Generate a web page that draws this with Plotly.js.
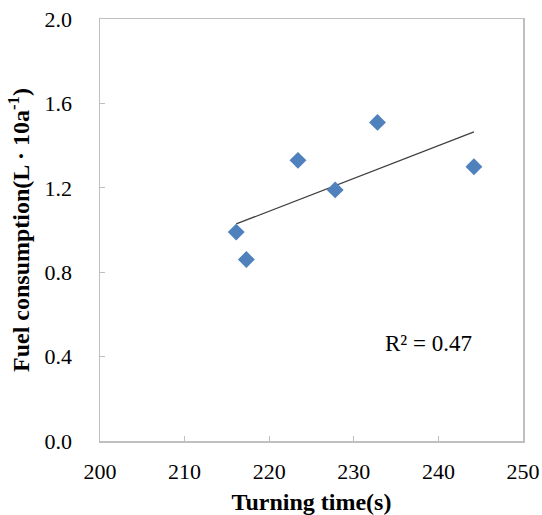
<!DOCTYPE html>
<html>
<head>
<meta charset="utf-8">
<script src="https://cdn.plot.ly/plotly-3.0.1.min.js"></script>
<style>html,body{margin:0;padding:0;background:#fff;}#chart{width:542px;height:515px;}</style>
</head>
<body>
<div id="chart"></div>
<script>
// Data
const turningTime = [216.1, 217.3, 223.4, 227.8, 232.8, 244.2];
const fuelConsumption = [0.99, 0.86, 1.33, 1.19, 1.51, 1.30];
const xTicks = [200, 210, 220, 230, 240, 250];
const yTicks = [0.0, 0.4, 0.8, 1.2, 1.6, 2.0];
const r2Label = 'R² = 0.47';

// Linear least-squares trendline (as in the spreadsheet chart)
const n = turningTime.length;
const mx = turningTime.reduce((a, b) => a + b, 0) / n;
const my = fuelConsumption.reduce((a, b) => a + b, 0) / n;
let sxy = 0, sxx = 0;
for (let i = 0; i < n; i++) {
  sxy += (turningTime[i] - mx) * (fuelConsumption[i] - my);
  sxx += (turningTime[i] - mx) ** 2;
}
const slope = sxy / sxx;
const intercept = my - slope * mx;
const xMin = Math.min(...turningTime), xMax = Math.max(...turningTime);
const trendX = [xMin, xMax];
const trendY = trendX.map(x => intercept + slope * x);

const font = '"Liberation Serif", "Times New Roman", Times, serif';
const axisCol = '#BFBFBF';

const traces = [
  {
    x: trendX, y: trendY, type: 'scatter', mode: 'lines',
    line: {color: '#404040', width: 1.3}, hoverinfo: 'skip', showlegend: false
  },
  {
    x: turningTime, y: fuelConsumption, type: 'scatter', mode: 'markers',
    marker: {symbol: 'diamond', size: 13, color: '#4F81BD', line: {width: 0}},
    showlegend: false
  }
];

const layout = {
  width: 542, height: 515,
  margin: {l: 100, r: 19, t: 19, b: 74},
  paper_bgcolor: '#fff', plot_bgcolor: '#fff',
  font: {family: font, color: '#000', size: 20},
  xaxis: {
    range: [200, 250], tickvals: xTicks, ticktext: xTicks.map(String),
    showgrid: false, zeroline: false, showline: true, mirror: true,
    linecolor: axisCol, linewidth: 1.5, ticks: 'inside', ticklen: 5, tickcolor: axisCol,
    ticklabelstandoff: 10,
    tickfont: {family: font, size: 22, color: '#000'},
    title: {text: '<b>Turning time(s)</b>', font: {family: font, size: 24, color: '#000'}, standoff: 12}
  },
  yaxis: {
    range: [0, 2.0], tickvals: yTicks, ticktext: yTicks.map(v => v.toFixed(1)),
    showgrid: false, zeroline: false, showline: true, mirror: true,
    linecolor: axisCol, linewidth: 1.5, ticks: 'inside', ticklen: 5, tickcolor: axisCol,
    ticklabelstandoff: 22,
    tickfont: {family: font, size: 22, color: '#000'},
    title: {text: '<b>Fuel consumption(L · 10a<sup>-1</sup>)</b>', font: {family: font, size: 24, color: '#000'}, standoff: 8}
  },
  annotations: [{
    x: 238.8, y: 0.464, xref: 'x', yref: 'y', text: r2Label, showarrow: false,
    font: {family: font, size: 23, color: '#000'}
  }]
};

Plotly.newPlot('chart', traces, layout, {displayModeBar: false, staticPlot: true});
</script>
</body>
</html>
